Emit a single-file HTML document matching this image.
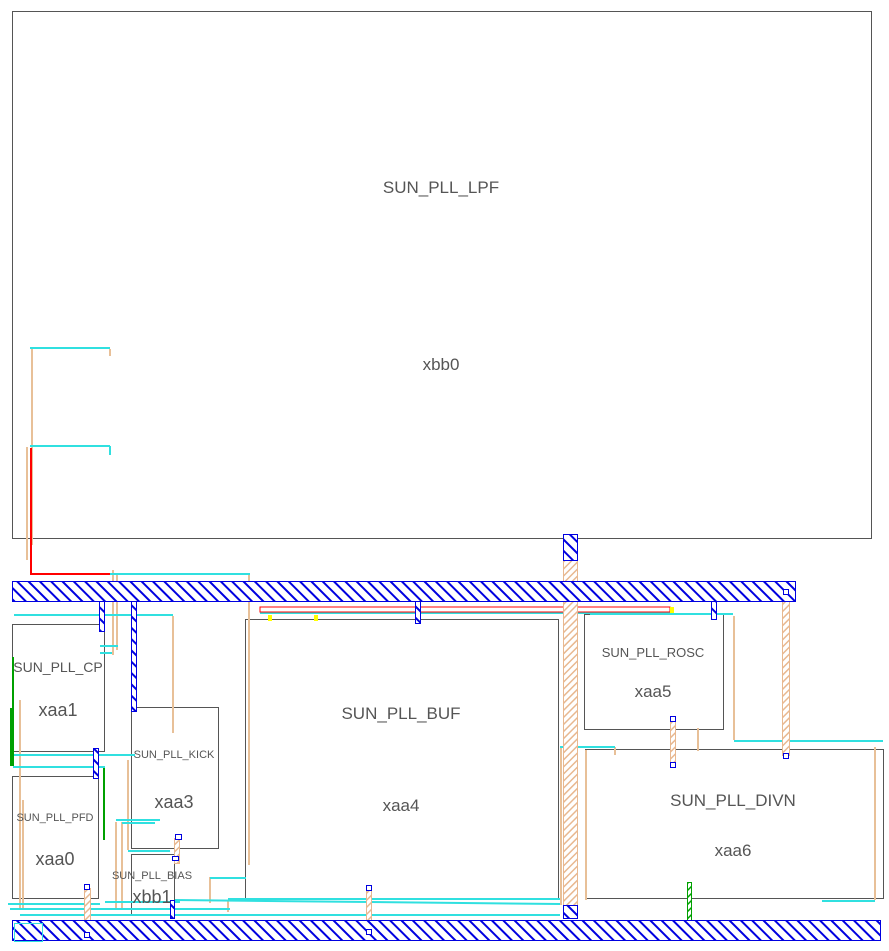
<!DOCTYPE html>
<html><head><meta charset="utf-8"><style>
html,body{margin:0;padding:0;background:#fff;}
svg{display:block;font-family:"Liberation Sans",sans-serif;}
</style></head><body>
<svg width="889" height="951" viewBox="0 0 889 951" xmlns="http://www.w3.org/2000/svg">
<defs>
<pattern id="bh" patternUnits="userSpaceOnUse" width="8" height="8" patternTransform="rotate(-45)">
<rect width="8" height="8" fill="#fff"/><rect width="2" height="8" fill="#0000e0"/></pattern>
<pattern id="ph" patternUnits="userSpaceOnUse" width="5" height="5" patternTransform="rotate(45)">
<rect width="5" height="5" fill="#fff"/><rect width="1.5" height="5" fill="#e8b890"/></pattern>
<pattern id="gh" patternUnits="userSpaceOnUse" width="5" height="5" patternTransform="rotate(45)">
<rect width="5" height="5" fill="#fff"/><rect width="1.5" height="5" fill="#00a000"/></pattern>
</defs>
<g fill="none" stroke="#555" stroke-width="1">
<rect x="12.5" y="11.5" width="859" height="527"/>
<rect x="12.5" y="624.5" width="92" height="127"/>
<rect x="12.5" y="776.5" width="86" height="122"/>
<rect x="131.5" y="707.5" width="87" height="141"/>
<rect x="131.5" y="854.5" width="43" height="61"/>
<rect x="245.5" y="619.5" width="313" height="279"/>
<rect x="584.5" y="614.5" width="139" height="115"/>
<rect x="585.5" y="749.5" width="298" height="149"/>
</g>
<g stroke="#e8c098" stroke-width="2" fill="none">
<line x1="32" y1="349" x2="32" y2="545"/>
<line x1="110" y1="349" x2="110" y2="356"/>
<line x1="27" y1="447" x2="27" y2="560"/>
<line x1="113" y1="570" x2="113" y2="655"/>
<line x1="117" y1="575" x2="117" y2="650"/>
<line x1="249" y1="575" x2="249" y2="865"/>
<line x1="173" y1="616" x2="173" y2="733"/>
<line x1="20" y1="700" x2="20" y2="910"/>
<line x1="23" y1="800" x2="23" y2="910"/>
<line x1="128" y1="760" x2="128" y2="850"/>
<line x1="116" y1="822" x2="116" y2="908"/>
<line x1="122" y1="822" x2="122" y2="908"/>
<line x1="210" y1="877" x2="210" y2="903"/>
<line x1="228" y1="900" x2="228" y2="912"/>
<line x1="734" y1="616" x2="734" y2="740"/>
<line x1="698" y1="728" x2="698" y2="751"/>
<line x1="561" y1="747" x2="561" y2="905"/>
<line x1="586" y1="750" x2="586" y2="900"/>
<line x1="615" y1="747" x2="615" y2="755"/>
<line x1="875" y1="747" x2="875" y2="900"/>
</g>
<g stroke="#30e0e0" stroke-width="2" fill="none">
<line x1="30" y1="348" x2="110" y2="348"/>
<line x1="30" y1="446" x2="110" y2="446"/>
<line x1="110" y1="446" x2="110" y2="455"/>
<line x1="110" y1="574" x2="250" y2="574"/>
<line x1="14" y1="615" x2="173" y2="615"/>
<line x1="100" y1="646" x2="118" y2="646"/>
<line x1="100" y1="653" x2="112" y2="653"/>
<line x1="13" y1="755" x2="135" y2="755"/>
<line x1="13" y1="767" x2="105" y2="767"/>
<line x1="116" y1="820" x2="160" y2="820"/>
<line x1="122" y1="823" x2="155" y2="823"/>
<line x1="128" y1="851" x2="170" y2="851"/>
<line x1="210" y1="878" x2="246" y2="878"/>
<line x1="8" y1="904" x2="100" y2="904"/>
<line x1="10" y1="909" x2="230" y2="909"/>
<line x1="105" y1="902" x2="180" y2="902"/>
<line x1="175" y1="900" x2="560" y2="904"/>
<line x1="228" y1="899" x2="560" y2="899"/>
<line x1="20" y1="915" x2="560" y2="915"/>
<line x1="560" y1="747" x2="615" y2="747"/>
<line x1="734" y1="741" x2="883" y2="741"/>
<line x1="590" y1="614" x2="733" y2="614"/>
<line x1="822" y1="901" x2="875" y2="901"/>
<line x1="260" y1="613" x2="670" y2="613"/>
</g>
<g stroke="#f00" stroke-width="2" fill="none">
<polyline points="31,448 31,574 110,574"/>
<rect x="260" y="607" width="410" height="5" stroke-width="1"/>
</g>
<g stroke="#00a000" stroke-width="2" fill="none">
<line x1="13" y1="657" x2="13" y2="766"/>
<line x1="11" y1="708" x2="11" y2="766"/>
<line x1="104" y1="768" x2="104" y2="840"/>
</g>
<rect x="687.5" y="882.5" width="4" height="57" fill="url(#gh)" stroke="#00a000"/>
<g stroke="#e8b890" stroke-width="1">
<rect x="563.5" y="560.5" width="14" height="345" fill="url(#ph)"/>
<rect x="782.5" y="595.5" width="7" height="160" fill="url(#ph)"/>
<rect x="670.5" y="720.5" width="5" height="45" fill="url(#ph)"/>
<rect x="366.5" y="888.5" width="5" height="45" fill="url(#ph)"/>
<rect x="84.5" y="888.5" width="6" height="45" fill="url(#ph)"/>
<rect x="174.5" y="838.5" width="5" height="25" fill="url(#ph)"/>
</g>
<g stroke="#0000e0" stroke-width="1">
<rect x="12.5" y="581.5" width="783" height="20" fill="url(#bh)"/>
<rect x="12.5" y="920.5" width="868" height="20" fill="url(#bh)"/>
<rect x="563.5" y="534.5" width="14" height="26" fill="url(#bh)"/>
<rect x="563.5" y="905.5" width="14" height="13" fill="url(#bh)"/>
<rect x="131.5" y="601.5" width="5" height="110" fill="url(#bh)"/>
<rect x="99.5" y="601.5" width="5" height="30" fill="url(#bh)"/>
<rect x="93.5" y="748.5" width="5" height="30" fill="url(#bh)"/>
<rect x="415.5" y="601.5" width="5" height="22" fill="url(#bh)"/>
<rect x="711.5" y="601.5" width="5" height="18" fill="url(#bh)"/>
<rect x="170.5" y="900.5" width="4" height="18" fill="url(#bh)"/>
</g>
<g fill="#fff" stroke="#0000e0">
<rect x="783.5" y="589.5" width="5" height="5"/><rect x="783.5" y="753.5" width="5" height="5"/>
<rect x="670.5" y="716.5" width="5" height="5"/><rect x="670.5" y="762.5" width="5" height="5"/>
<rect x="366.5" y="885.5" width="5" height="5"/><rect x="366.5" y="929.5" width="5" height="5"/>
<rect x="84.5" y="884.5" width="5" height="5"/><rect x="84.5" y="932.5" width="5" height="5"/>
<rect x="175.5" y="834.5" width="6" height="5"/><rect x="172.5" y="856.5" width="6" height="4"/>
</g>
<rect x="14.5" y="923.5" width="28" height="18" fill="none" stroke="#30e0e0"/>
<rect x="268" y="615" width="4" height="6" fill="#ff0"/><rect x="314" y="615" width="4" height="6" fill="#ff0"/>
<rect x="670" y="607" width="4" height="6" fill="#ff0"/>
<g fill="#555" text-anchor="middle">
<text x="441" y="193" font-size="17">SUN_PLL_LPF</text>
<text x="441" y="370" font-size="17">xbb0</text>
<text x="58" y="672" font-size="14">SUN_PLL_CP</text>
<text x="58" y="716" font-size="18">xaa1</text>
<text x="55" y="821" font-size="11">SUN_PLL_PFD</text>
<text x="55" y="865" font-size="18">xaa0</text>
<text x="174" y="758" font-size="11">SUN_PLL_KICK</text>
<text x="174" y="808" font-size="18">xaa3</text>
<text x="152" y="879" font-size="11">SUN_PLL_BIAS</text>
<text x="152" y="903" font-size="18">xbb1</text>
<text x="401" y="719" font-size="17">SUN_PLL_BUF</text>
<text x="401" y="811" font-size="17">xaa4</text>
<text x="653" y="657" font-size="13">SUN_PLL_ROSC</text>
<text x="653" y="697" font-size="17">xaa5</text>
<text x="733" y="806" font-size="17">SUN_PLL_DIVN</text>
<text x="733" y="856" font-size="17">xaa6</text>
</g>
</svg>
</body></html>
